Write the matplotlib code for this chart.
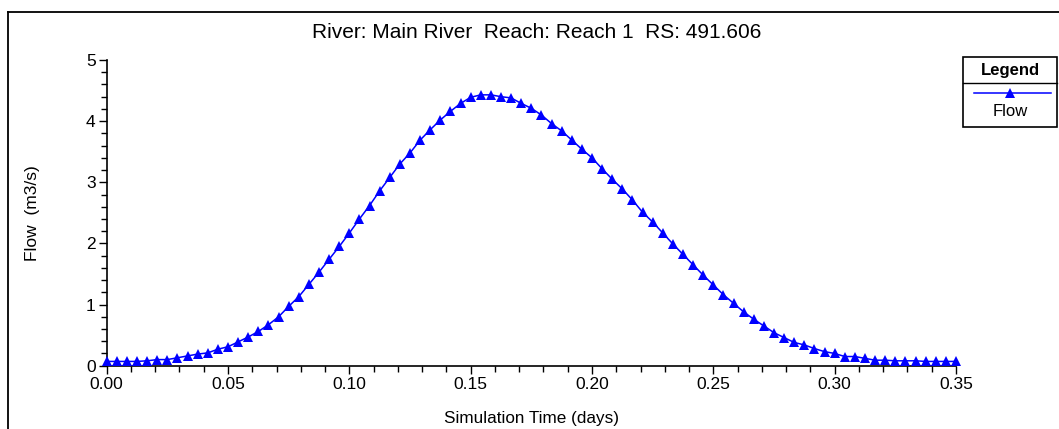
import matplotlib
matplotlib.use("Agg")
import matplotlib.pyplot as plt
from matplotlib.ticker import MultipleLocator, FormatStrFormatter
from matplotlib.lines import Line2D
from matplotlib.patches import Rectangle

# ---- data ----
time_minutes = [0, 6, 12, 18, 24, 30, 36, 42, 48, 54,
                60, 66, 72, 78, 84, 90, 96, 102, 108, 114,
                120, 126, 132, 138, 144, 150, 156, 162, 168, 174,
                180, 186, 192, 198, 204, 210, 216, 222, 228, 234,
                240, 246, 252, 258, 264, 270, 276, 282, 288, 294,
                300, 306, 312, 318, 324, 330, 336, 342, 348, 354,
                360, 366, 372, 378, 384, 390, 396, 402, 408, 414,
                420, 426, 432, 438, 444, 450, 456, 462, 468, 474,
                480, 486, 492, 498, 504]
flow = [0.07, 0.07, 0.07, 0.07, 0.08, 0.10, 0.10, 0.13, 0.16, 0.19,
        0.21, 0.27, 0.31, 0.39, 0.47, 0.56, 0.67, 0.80, 0.97, 1.13,
        1.33, 1.53, 1.74, 1.95, 2.17, 2.40, 2.62, 2.86, 3.08, 3.30,
        3.48, 3.69, 3.86, 4.02, 4.16, 4.29, 4.39, 4.43, 4.43, 4.40,
        4.38, 4.29, 4.21, 4.10, 3.96, 3.84, 3.69, 3.54, 3.40, 3.22,
        3.05, 2.89, 2.71, 2.51, 2.35, 2.17, 1.99, 1.82, 1.65, 1.48,
        1.32, 1.16, 1.02, 0.88, 0.76, 0.65, 0.54, 0.46, 0.38, 0.34,
        0.28, 0.23, 0.20, 0.15, 0.15, 0.12, 0.09, 0.09, 0.08, 0.08,
        0.08, 0.07, 0.07, 0.07, 0.07]
time_days = [m / 1440.0 for m in time_minutes]

title = "River: Main River  Reach: Reach 1  RS: 491.606"
x_label = "Simulation Time (days)"
y_label = "Flow  (m3/s)"
series_name = "Flow"

plt.rcParams['font.family'] = ['Liberation Sans', 'DejaVu Sans']

W, H = 1059, 429
fig = plt.figure(figsize=(W / 100, H / 100), dpi=100)

def fx(px):
    return px / W

def fy(py):
    return 1 - py / H

left, right = 106.7, 956.0
top, bottom = 60.0, 365.7
ax = fig.add_axes([fx(left), fy(bottom), fx(right - left), (bottom - top) / H])

color = (0, 0, 1)
ax.plot(time_days, flow, color=color, linewidth=1.1, marker='^',
        markersize=6.8, markeredgewidth=0, clip_on=False, zorder=3)

ax.set_xlim(0, 0.35)
ax.set_ylim(0, 5)
ax.xaxis.set_major_locator(MultipleLocator(0.05))
ax.xaxis.set_minor_locator(MultipleLocator(0.01))
ax.xaxis.set_major_formatter(FormatStrFormatter('%.2f'))
ax.yaxis.set_major_locator(MultipleLocator(1))
ax.yaxis.set_minor_locator(MultipleLocator(0.2))

for s in ['top', 'right']:
    ax.spines[s].set_visible(False)
for s in ['left', 'bottom']:
    ax.spines[s].set_linewidth(1.2)
    ax.spines[s].set_color('black')

ax.tick_params(which='major', direction='out', length=6, width=1, labelsize=12.5, pad=2)
ax.tick_params(which='minor', direction='out', length=4, width=1)

ax.set_xlabel(x_label, fontsize=12.3, labelpad=14)
ax.set_ylabel(y_label, fontsize=12.5, labelpad=33)

fig.text(fx(537), fy(33), title, ha='center', va='center', fontsize=15)

# outer frame (left & top only, as in the reference crop)
fig.add_artist(Line2D([fx(8), fx(8)], [fy(12), 0], transform=fig.transFigure,
                      color='black', linewidth=1.3))
fig.add_artist(Line2D([fx(8), 1], [fy(12), fy(12)], transform=fig.transFigure,
                      color='black', linewidth=1.3))

# legend box
lx0, lx1, ly0, ly1, lsep = 963.3, 1056.7, 56.7, 127.3, 82.7
fig.add_artist(Rectangle((fx(lx0), fy(ly1)), fx(lx1 - lx0), (ly1 - ly0) / H,
                         transform=fig.transFigure, facecolor='white',
                         edgecolor='black', linewidth=1.2))
fig.add_artist(Line2D([fx(lx0), fx(lx1)], [fy(lsep), fy(lsep)], transform=fig.transFigure,
                      color='black', linewidth=1.0))
fig.text(fx(1010), fy(71), "Legend", ha='center', va='center', fontsize=12, fontweight='bold')
fig.add_artist(Line2D([fx(974), fx(1050.7)], [fy(93.3), fy(93.3)], transform=fig.transFigure,
                      color=color, linewidth=1.1))
fig.add_artist(Line2D([fx(1010)], [fy(93.3)], transform=fig.transFigure,
                      color=color, marker='^', markersize=6.8, markeredgewidth=0,
                      linestyle='none'))
fig.text(fx(1010), fy(111), series_name, ha='center', va='center', fontsize=12)

fig.savefig("out.png", dpi=100)
